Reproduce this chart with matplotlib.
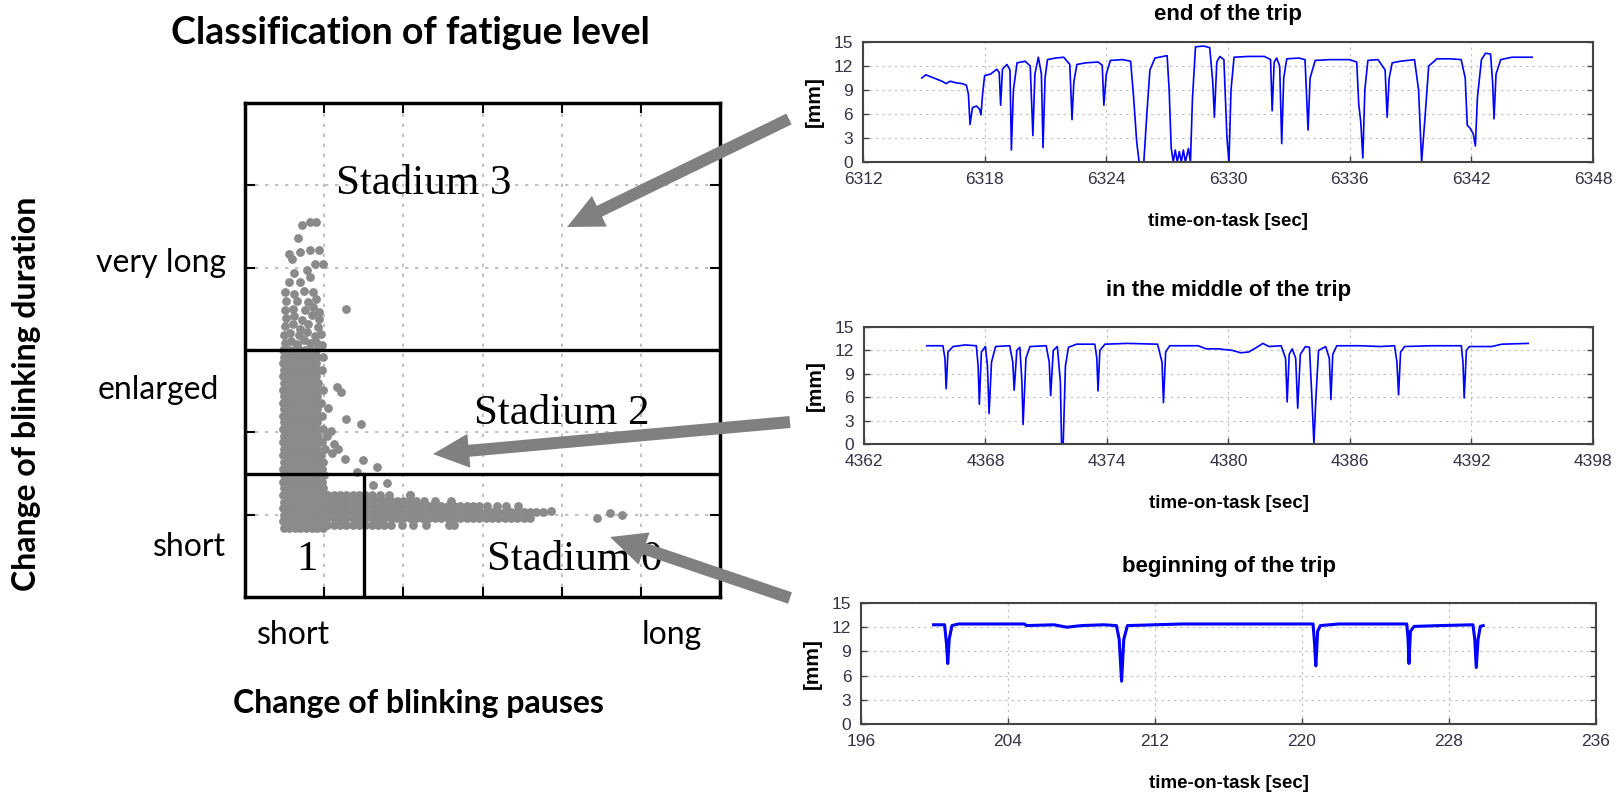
import matplotlib.pyplot as plt
from matplotlib.patches import FancyArrow

# ---- fatigue classification scatter (change of pauses vs change of duration) ----
# dense cluster of short pauses, one row per duration level: (y, [x, ...])
core_rows = [
    (0.84, [0.49, 0.56, 0.63, 0.70, 0.77, 0.84, 0.91, 0.98]),
    (0.92, [0.48, 0.55, 0.62, 0.69, 0.76, 0.83, 0.90, 0.97]),
    (1.00, [0.49, 0.56, 0.63, 0.70, 0.77, 0.84, 0.91, 0.98]),
    (1.08, [0.48, 0.55, 0.62, 0.69, 0.76, 0.83, 0.90, 0.97]),
    (1.16, [0.49, 0.56, 0.63, 0.70, 0.77, 0.84, 0.91, 0.98]),
    (1.24, [0.48, 0.55, 0.62, 0.69, 0.76, 0.83, 0.90, 0.97, 1.04]),
    (1.32, [0.49, 0.56, 0.63, 0.70, 0.77, 0.84, 0.91, 0.98]),
    (1.40, [0.48, 0.55, 0.62, 0.69, 0.76, 0.83, 0.90, 0.97]),
    (1.48, [0.49, 0.56, 0.63, 0.70, 0.77, 0.84, 0.91, 1.00]),
    (1.56, [0.48, 0.55, 0.62, 0.69, 0.76, 0.83, 0.90, 0.97]),
    (1.64, [0.49, 0.56, 0.63, 0.70, 0.77, 0.84, 0.91, 0.99]),
    (1.72, [0.48, 0.55, 0.62, 0.69, 0.76, 0.83, 0.90, 0.96]),
    (1.80, [0.49, 0.56, 0.63, 0.70, 0.77, 0.84, 0.91, 1.01]),
    (1.88, [0.48, 0.55, 0.62, 0.69, 0.76, 0.83, 0.90, 0.97]),
    (1.96, [0.49, 0.56, 0.63, 0.70, 0.77, 0.84, 0.92]),
    (2.04, [0.48, 0.55, 0.62, 0.69, 0.76, 0.83, 0.90, 0.98]),
    (2.12, [0.49, 0.56, 0.63, 0.70, 0.77, 0.84, 0.91]),
    (2.20, [0.48, 0.55, 0.62, 0.69, 0.76, 0.83, 0.90, 0.97]),
    (2.28, [0.49, 0.56, 0.63, 0.70, 0.77, 0.84, 0.91]),
    (2.36, [0.48, 0.55, 0.62, 0.69, 0.76, 0.83, 0.90, 0.96]),
    (2.44, [0.49, 0.56, 0.63, 0.70, 0.77, 0.84, 0.91]),
    (2.52, [0.48, 0.55, 0.62, 0.69, 0.76, 0.83, 0.90, 0.99]),
    (2.60, [0.49, 0.56, 0.63, 0.70, 0.77, 0.84, 0.92]),
    (2.68, [0.48, 0.55, 0.62, 0.69, 0.76, 0.83, 0.90]),
    (2.76, [0.49, 0.56, 0.63, 0.70, 0.77, 0.84, 0.91, 0.97]),
    (2.84, [0.48, 0.55, 0.62, 0.69, 0.76, 0.83, 0.90]),
    (2.92, [0.49, 0.56, 0.63, 0.70, 0.77, 0.84, 0.91, 0.98]),
    (3.00, [0.48, 0.55, 0.62, 0.69, 0.76, 0.83, 0.90]),
]

# band of short blinks with growing pauses: (y, [x, ...])
tail_rows = [
    (0.88, [1.04, 1.12, 1.20, 1.28, 1.36, 1.44, 1.52, 1.60, 1.68, 1.76, 1.84,
            1.98, 2.12, 2.28, 2.58, 2.64]),
    (0.96, [1.04, 1.12, 1.20, 1.28, 1.36, 1.44, 1.52, 1.60, 1.68, 1.76, 1.84,
            1.92, 2.00, 2.08, 2.16, 2.24, 2.32, 2.40, 2.48, 2.56, 2.64, 2.72,
            2.80, 2.88, 2.96, 3.04, 3.12, 3.20, 3.28, 3.36, 3.44, 3.52, 3.60]),
    (1.03, [1.04, 1.12, 1.20, 1.28, 1.36, 1.44, 1.52, 1.60, 1.68, 1.76, 1.84,
            1.92, 2.00, 2.08, 2.16, 2.24, 2.32, 2.40, 2.48, 2.56, 2.64, 2.72,
            2.80, 2.88, 2.96, 3.04, 3.12, 3.20, 3.28, 3.36, 3.44, 3.52, 3.60,
            3.68, 3.76]),
    (1.10, [1.04, 1.12, 1.20, 1.28, 1.36, 1.44, 1.52, 1.60, 1.68, 1.76, 1.84,
            1.92, 2.00, 2.08, 2.16, 2.24, 2.32, 2.40, 2.48, 2.56, 2.64, 2.72,
            2.80, 2.88, 2.96, 3.06, 3.18, 3.30, 3.45]),
    (1.17, [1.04, 1.12, 1.20, 1.28, 1.36, 1.44, 1.52, 1.60, 1.68, 1.76, 1.84,
            1.92, 2.00, 2.08, 2.16, 2.26, 2.40, 2.60]),
    (1.24, [1.04, 1.12, 1.20, 1.28, 1.36, 1.44, 1.52, 1.60, 1.70, 1.82, 2.08]),
]

# sparse top of the cluster (long blinks)
upper_points = [
    (0.50, 3.08), (0.58, 3.11), (0.66, 3.07), (0.74, 3.12), (0.82, 3.08),
    (0.90, 3.10), (0.97, 3.06), (0.49, 3.18), (0.57, 3.21), (0.68, 3.18),
    (0.78, 3.22), (0.88, 3.17), (0.96, 3.20), (0.50, 3.29), (0.60, 3.31),
    (0.70, 3.26), (0.80, 3.32), (0.92, 3.28), (0.52, 3.39), (0.62, 3.41),
    (0.72, 3.36), (0.84, 3.42), (0.94, 3.38), (0.50, 3.49), (0.60, 3.50),
    (0.76, 3.48), (0.86, 3.52), (0.93, 3.46), (0.52, 3.59), (0.66, 3.60),
    (0.80, 3.58), (0.90, 3.62), (0.50, 3.70), (0.62, 3.68), (0.74, 3.72),
    (0.86, 3.70), (0.56, 3.82), (0.69, 3.83), (0.82, 3.89), (0.62, 3.94),
    (0.78, 3.97), (0.88, 4.05), (0.99, 4.05), (0.59, 4.11), (0.55, 4.17),
    (0.69, 4.19), (0.82, 4.21), (0.93, 4.21), (0.67, 4.36), (0.72, 4.52),
    (0.82, 4.56), (0.90, 4.56),
]

# isolated blinks
stray_points = [
    (1.28, 3.50), (1.16, 2.55), (1.21, 2.49), (1.05, 2.29), (1.28, 2.16),
    (1.47, 2.10), (1.08, 2.02), (1.12, 1.86), (1.03, 1.95), (1.26, 1.68),
    (1.49, 1.66), (1.66, 1.58), (1.41, 1.52), (1.10, 1.75), (1.18, 1.80),
    (1.62, 1.36), (1.79, 1.38), (2.08, 1.24), (3.87, 1.04), (4.44, 0.96),
    (4.61, 1.02), (4.76, 1.00),
]

duration_borders = [3.0, 1.5]
pause_border = 1.5

# ---- eyelid opening over time-on-task: (sec, mm) ----
end_trip = [
    (6314.9, 10.5), (6315.1, 10.9), (6315.3, 10.7), (6315.6, 10.4), (6315.9, 10.1),
    (6316.1, 9.8), (6316.3, 10.1), (6316.6, 9.9), (6316.9, 9.8), (6317.1, 9.6),
    (6317.2, 8.5), (6317.28, 4.7), (6317.4, 6.8), (6317.6, 7.0), (6317.75, 6.6),
    (6317.82, 5.9), (6317.9, 8.5), (6318.0, 10.8), (6318.3, 11.0), (6318.6, 11.6),
    (6318.72, 11.2), (6318.79, 7.1), (6318.88, 11.6), (6319.1, 12.2), (6319.25, 11.5),
    (6319.32, 1.5), (6319.42, 9.0), (6319.6, 12.4), (6320.0, 12.6), (6320.25, 12.0),
    (6320.38, 3.3), (6320.48, 11.0), (6320.65, 13.1), (6320.8, 11.0), (6320.88, 1.8),
    (6320.98, 10.5), (6321.1, 12.8), (6321.5, 13.0), (6321.9, 13.1), (6322.2, 12.2),
    (6322.31, 5.3), (6322.4, 10.0), (6322.55, 12.2), (6323.0, 12.4), (6323.6, 12.5),
    (6323.8, 12.1), (6323.88, 7.1), (6324.0, 11.0), (6324.2, 12.7), (6324.8, 12.8),
    (6325.2, 12.6), (6325.35, 8.0), (6325.5, 2.5), (6325.62, 0.0), (6325.85, 0.0),
    (6326.0, 6.0), (6326.15, 11.5), (6326.4, 13.0), (6326.8, 13.2), (6327.0, 13.3),
    (6327.1, 9.0), (6327.2, 1.8), (6327.3, 0.0), (6327.4, 1.5), (6327.5, 0.0),
    (6327.6, 1.3), (6327.7, 0.0), (6327.8, 1.5), (6327.9, 0.0), (6328.05, 1.7),
    (6328.15, 0.0), (6328.25, 8.0), (6328.4, 14.4), (6328.8, 14.5), (6329.1, 14.3),
    (6329.25, 10.0), (6329.33, 5.6), (6329.45, 12.5), (6329.6, 13.2), (6329.8, 12.8),
    (6329.95, 3.0), (6330.05, 0.0), (6330.15, 9.0), (6330.3, 13.1), (6331.0, 13.2),
    (6331.8, 13.2), (6332.1, 12.8), (6332.18, 6.4), (6332.28, 12.5), (6332.4, 13.0),
    (6332.55, 12.0), (6332.65, 2.3), (6332.75, 10.5), (6332.9, 12.9), (6333.5, 13.0),
    (6333.8, 12.8), (6333.95, 4.0), (6334.05, 10.5), (6334.3, 12.7), (6335.0, 12.8),
    (6336.0, 12.8), (6336.35, 12.5), (6336.45, 7.2), (6336.55, 5.0), (6336.65, 0.5),
    (6336.75, 9.0), (6336.9, 12.7), (6337.4, 12.8), (6337.75, 11.5), (6337.85, 5.6),
    (6337.95, 10.5), (6338.1, 12.4), (6338.5, 12.6), (6339.2, 12.8), (6339.4, 9.0),
    (6339.55, 0.0), (6339.7, 5.0), (6339.9, 12.0), (6340.3, 12.9), (6341.0, 12.9),
    (6341.5, 12.8), (6341.7, 10.5), (6341.8, 4.6), (6341.95, 4.2), (6342.1, 3.5),
    (6342.2, 2.0), (6342.3, 8.0), (6342.5, 12.8), (6342.7, 13.6), (6342.95, 13.5),
    (6343.05, 10.0), (6343.12, 5.4), (6343.22, 11.0), (6343.45, 12.8), (6344.0, 13.1),
    (6345.0, 13.1),
]

middle_trip = [
    (4365.1, 12.6), (4365.9, 12.6), (4366.0, 11.0), (4366.06, 7.1), (4366.15, 11.8),
    (4366.4, 12.5), (4367.0, 12.7), (4367.55, 12.6), (4367.64, 10.0), (4367.7, 5.1),
    (4367.8, 11.8), (4368.0, 12.5), (4368.1, 10.0), (4368.18, 3.9), (4368.3, 10.5),
    (4368.5, 12.5), (4369.2, 12.6), (4369.35, 10.5), (4369.42, 6.9), (4369.55, 12.0),
    (4369.7, 12.4), (4369.8, 8.0), (4369.86, 2.5), (4370.0, 11.0), (4370.2, 12.5),
    (4371.0, 12.6), (4371.15, 10.5), (4371.22, 6.2), (4371.35, 12.0), (4371.55, 12.5),
    (4371.7, 8.0), (4371.76, 0.0), (4371.84, 0.0), (4371.95, 10.0), (4372.1, 12.4),
    (4372.5, 12.8), (4373.4, 12.8), (4373.5, 11.0), (4373.56, 6.8), (4373.65, 12.0),
    (4373.9, 12.8), (4375.0, 12.9), (4376.5, 12.8), (4376.72, 10.5), (4376.79, 5.3),
    (4376.9, 11.8), (4377.1, 12.6), (4378.5, 12.6), (4378.9, 12.2), (4379.5, 12.2),
    (4380.2, 12.0), (4380.6, 11.7), (4381.0, 11.8), (4381.4, 12.4), (4381.7, 12.9),
    (4382.0, 12.5), (4382.6, 12.6), (4382.82, 11.0), (4382.9, 5.4), (4383.0, 11.5),
    (4383.15, 12.2), (4383.32, 11.0), (4383.42, 4.6), (4383.55, 11.5), (4383.8, 12.5),
    (4384.0, 12.4), (4384.12, 6.0), (4384.22, 0.0), (4384.32, 6.0), (4384.45, 12.0),
    (4384.8, 12.5), (4384.98, 11.0), (4385.06, 5.7), (4385.15, 11.5), (4385.35, 12.6),
    (4386.5, 12.6), (4387.5, 12.5), (4388.2, 12.6), (4388.32, 10.5), (4388.4, 6.3),
    (4388.5, 11.8), (4388.7, 12.5), (4390.0, 12.6), (4391.5, 12.6), (4391.58, 10.5),
    (4391.64, 5.9), (4391.75, 12.0), (4391.9, 12.5), (4393.0, 12.5), (4393.5, 12.8),
    (4394.8, 12.9),
]

begin_trip = [
    (199.95, 12.3), (200.55, 12.3), (200.65, 10.0), (200.72, 7.5), (200.8, 10.5),
    (200.95, 12.2), (201.3, 12.4), (204.9, 12.4), (205.0, 12.2), (206.5, 12.3),
    (207.2, 12.0), (208.0, 12.2), (209.2, 12.3), (209.9, 12.2), (210.05, 10.5),
    (210.18, 5.3), (210.3, 10.5), (210.5, 12.2), (212.0, 12.3), (213.5, 12.4),
    (216.0, 12.4), (220.6, 12.4), (220.68, 10.0), (220.75, 7.2), (220.85, 11.5),
    (221.0, 12.2), (222.0, 12.4), (225.7, 12.4), (225.77, 10.5), (225.82, 7.5),
    (225.9, 11.5), (226.1, 12.1), (227.5, 12.2), (229.3, 12.3), (229.4, 10.5),
    (229.48, 7.0), (229.58, 10.5), (229.7, 12.1), (229.86, 12.2),
]

end_ticks = [6312, 6318, 6324, 6330, 6336, 6342, 6348]
middle_ticks = [4362, 4368, 4374, 4380, 4386, 4392, 4398]
begin_ticks = [196, 204, 212, 220, 228, 236]
mm_ticks = [0, 3, 6, 9, 12, 15]

NARROW = ['Liberation Sans', 'DejaVu Sans']
SANS = ['Lato', 'DejaVu Sans']
SERIF = ['Liberation Serif', 'DejaVu Serif']
DOT_GREY = '#8a8a8a'

fig = plt.figure(figsize=(16.23, 7.99), dpi=100)

# ---- left: scatter with fatigue zones ----
ax = fig.add_axes([0.1510, 0.2528, 0.2927, 0.6183])
pts = [(x, y) for y, xs in core_rows + tail_rows for x in xs] + upper_points + stray_points
px, py = zip(*pts)
ax.scatter(px, py, s=40, color=DOT_GREY, linewidths=0, zorder=3)
ax.set_xlim(0, 6)
ax.set_ylim(0, 6)
ax.set_xticks([1, 2, 3, 4, 5])
ax.set_yticks([1, 2, 3, 4, 5])
ax.tick_params(direction='in', length=7, width=1.5, top=True, right=True,
               labelbottom=False, labelleft=False)
ax.grid(True, color='#b5b5b5', linestyle=(0, (2, 4)), linewidth=1.2)
for s in ax.spines.values():
    s.set_linewidth(2.5)
for yb in duration_borders:
    ax.axhline(yb, color='black', lw=2.4, zorder=4)
ax.plot([pause_border, pause_border], [0, duration_borders[1]], color='black', lw=2.4, zorder=4)

ax.text(2.26, 4.9, 'Stadium 3', family=SERIF, fontsize=31, ha='center', va='baseline', zorder=5)
ax.text(4.0, 2.1, 'Stadium 2', family=SERIF, fontsize=31, ha='center', va='baseline', zorder=5)
ax.text(4.17, 0.33, 'Stadium 0', family=SERIF, fontsize=31, ha='center', va='baseline', zorder=5)
ax.text(0.78, 0.33, '1', family=SERIF, fontsize=31, ha='center', va='baseline', zorder=5)


# ---- right: eyelid opening traces ----
def trip_panel(rect, data, ticks, title, lw, title_pad=22):
    a = fig.add_axes(rect)
    t, v = zip(*data)
    a.plot(t, v, color='#0000ff', lw=lw)
    a.set_xlim(ticks[0], ticks[-1])
    a.set_ylim(0, 15)
    a.set_xticks(ticks)
    a.set_yticks(mm_ticks)
    a.grid(True, color='#c4c4c4', linestyle=(0, (2, 3)), linewidth=0.9)
    a.tick_params(direction='in', length=4, width=1, right=True, pad=7,
                  labelsize=12.5, labelcolor='#333344', color='#444444')
    for lab in a.get_xticklabels() + a.get_yticklabels():
        lab.set_family(NARROW)
    for s in a.spines.values():
        s.set_linewidth(1.5)
        s.set_color('#444444')
    a.set_xlabel('time-on-task [sec]', family=NARROW, fontsize=13.5, fontweight='bold', labelpad=19)
    a.set_ylabel('[mm]', family=NARROW, fontsize=15, fontweight='bold', labelpad=7)
    a.set_title(title, family=NARROW, fontsize=16, fontweight='bold', pad=title_pad)
    return a


trip_panel([0.5317, 0.7972, 0.4498, 0.1502], end_trip, end_ticks, 'end of the trip', 1.2, title_pad=16)
trip_panel([0.5323, 0.4443, 0.4492, 0.1464], middle_trip, middle_ticks, 'in the middle of the trip', 1.2)
trip_panel([0.5305, 0.0939, 0.4529, 0.1514], begin_trip, begin_ticks, 'beginning of the trip', 2.2)

# ---- overlay in pixel units for labels and arrows ----
ov = fig.add_axes([0, 0, 1, 1], zorder=10)
ov.set_xlim(0, 1623)
ov.set_ylim(799, 0)
ov.axis('off')
ov.patch.set_alpha(0)

ov.text(410, 33, 'Classification of fatigue level', family=SANS, fontsize=27,
        fontweight='bold', ha='center', va='center')
ov.text(27, 394, 'Change of blinking duration', family=SANS, fontsize=23,
        fontweight='bold', ha='center', va='center', rotation=90)
ov.text(418, 703, 'Change of blinking pauses', family=SANS, fontsize=23,
        fontweight='bold', ha='center', va='center')
ov.text(161, 263, 'very long', family=SANS, fontsize=23, ha='center', va='center')
ov.text(158, 390, 'enlarged', family=SANS, fontsize=23, ha='center', va='center')
ov.text(189, 547, 'short', family=SANS, fontsize=23, ha='center', va='center')
ov.text(293, 635, 'short', family=SANS, fontsize=23, ha='center', va='center')
ov.text(672, 635, 'long', family=SANS, fontsize=23, ha='center', va='center')

for (x0, y0), (x1, y1) in [((789, 119), (567, 227)),
                           ((790, 422), (433, 454)),
                           ((790, 598), (610, 537))]:
    ov.add_patch(FancyArrow(x0, y0, x1 - x0, y1 - y0, width=12, head_width=34,
                            head_length=36, length_includes_head=True,
                            color='#808080', lw=0))

fig.savefig('out.png', dpi=100)
